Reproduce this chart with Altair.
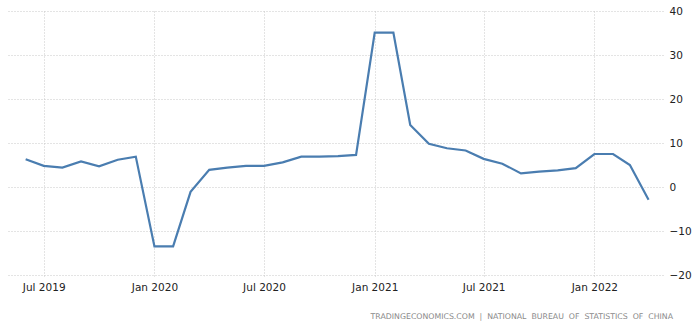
import altair as alt
import pandas as pd

months = ["2019-06", "2019-07", "2019-08", "2019-09", "2019-10", "2019-11", "2019-12",
          "2020-01", "2020-02", "2020-03", "2020-04", "2020-05", "2020-06", "2020-07",
          "2020-08", "2020-09", "2020-10", "2020-11", "2020-12", "2021-01", "2021-02",
          "2021-03", "2021-04", "2021-05", "2021-06", "2021-07", "2021-08", "2021-09",
          "2021-10", "2021-11", "2021-12", "2022-01", "2022-02", "2022-03", "2022-04"]
values = [6.3, 4.8, 4.4, 5.8, 4.7, 6.2, 6.9,
          -13.5, -13.5, -1.1, 3.9, 4.4, 4.8, 4.8,
          5.6, 6.9, 6.9, 7.0, 7.3, 35.1, 35.1,
          14.1, 9.8, 8.8, 8.3, 6.4, 5.3, 3.1,
          3.5, 3.8, 4.3, 7.5, 7.5, 5.0, -2.9]
tick_months = ["2019-07", "2020-01", "2020-07", "2021-01", "2021-07", "2022-01"]
y_ticks = [-20, -10, 0, 10, 20, 30, 40]
source_text = "TRADINGECONOMICS.COM\u00a0\u00a0|\u00a0\u00a0NATIONAL\u00a0\u00a0BUREAU\u00a0\u00a0OF\u00a0\u00a0STATISTICS\u00a0\u00a0OF\u00a0\u00a0CHINA"


def ms(s):
    return int(pd.Timestamp(s + "-01" if len(s) == 7 else s, tz="UTC").timestamp() * 1000)


df = pd.DataFrame({"t": [ms(m) for m in months], "v": values})
tick_vals = [ms(m) for m in tick_months]
x_domain = [ms("2019-05-01"), ms("2022-04-25")]

FONT = "DejaVu Sans"
GRID = "#c8c8c8"

line = alt.Chart(df).mark_line(color="#4a7db0", strokeWidth=2.2).encode(
    x=alt.X("t:T",
            scale=alt.Scale(type="utc", domain=x_domain, nice=False),
            axis=alt.Axis(values=tick_vals, labelExpr="utcFormat(datum.value, '%b %Y')",
                          title=None,
                          grid=True, gridDash=[1, 2], gridColor=GRID,
                          domain=False, ticks=True, tickSize=3, tickColor=GRID, tickDash=[1, 2],
                          labelFont=FONT, labelFontSize=10.5, labelColor="#222",
                          labelPadding=4)),
    y=alt.Y("v:Q",
            scale=alt.Scale(domain=[-20, 40], nice=False, zero=False),
            axis=alt.Axis(orient="right", values=y_ticks, title=None,
                          grid=True, gridDash=[1, 2], gridColor=GRID,
                          domain=False, ticks=False, labelPadding=6,
                          labelFont=FONT, labelFontSize=10.5, labelColor="#222")),
)

src = alt.Chart(pd.DataFrame({"s": [source_text]})).mark_text(
    align="right", baseline="middle", font=FONT, fontSize=7.8, color="#8a8a8a",
).encode(text="s:N", x=alt.value(666), y=alt.value(306))

chart = alt.layer(line, src).properties(
    width=656, height=264,
    background="white",
    autosize=alt.AutoSizeParams(type="none"),
    padding={"left": 7, "top": 11, "right": 30, "bottom": 58},
).configure_view(strokeWidth=0)

chart.save("out.html", embed_options={"renderer": "svg", "actions": False})
